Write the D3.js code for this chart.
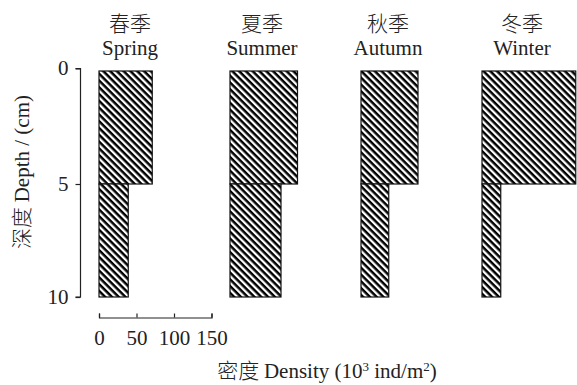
<!DOCTYPE html>
<html><head><meta charset="utf-8">
<script src="https://cdn.jsdelivr.net/npm/d3@7"></script>
<style>
html,body{margin:0;padding:0;background:#fff;}
svg{display:block;}
text{font-family:"Liberation Serif","Times New Roman","Noto Sans CJK SC",serif;fill:#222;}
</style></head>
<body>
<svg id="chart" width="577" height="385"></svg>
<script>
// ---- data ----
const seasonsZh = ["春季", "夏季", "秋季", "冬季"];
const seasonsEn = ["Spring", "Summer", "Autumn", "Winter"];
const depthBounds = [0, 5, 10];
const density0to5 = [71, 90, 76, 125];
const density5to10 = [39, 68, 37, 25];
const depthTicks = [0, 5, 10];
const densityTicks = [0, 50, 100, 150];

// ---- layout ----
const panelLeft = [99, 230, 361, 482];
const titleCenter = [130, 262, 388, 522];
const pxPerUnit = 0.75;
const FS = "21px";
const svg = d3.select("#chart");

const defs = svg.append("defs");
const pat = defs.append("pattern")
  .attr("id", "hatch")
  .attr("patternUnits", "userSpaceOnUse")
  .attr("width", 4.8).attr("height", 4.8)
  .attr("patternTransform", "rotate(45)");
pat.append("rect").attr("width", 4.8).attr("height", 4.8).attr("fill", "#fff");
pat.append("rect").attr("x", 0).attr("y", 0).attr("width", 4.8).attr("height", 2.5).attr("fill", "#000");

const y = d3.scaleLinear().domain([0, 10]).range([71, 297]);

// y axis
const yAxis = d3.axisLeft(y).tickValues(depthTicks).tickSize(5).tickSizeOuter(0).tickPadding(7);
const gy = svg.append("g").attr("transform", "translate(80.5,0)").call(yAxis);
gy.select(".domain").attr("d", `M-5,${y(0)-2.5}H0V${y(10)}H-5`).attr("stroke", "#222").attr("stroke-width", 1.2);
gy.selectAll(".tick line").attr("stroke", "#222").attr("stroke-width", 1.2);
gy.selectAll(".tick").filter(d => d === 0).select("line").attr("transform", "translate(0,-2.5)");
gy.selectAll(".tick").filter(d => d === 0).select("text").attr("transform", "translate(0,-3)");
gy.selectAll(".tick text").style("font-size", FS).attr("fill", "#222")
  .style("font-family", '"Liberation Serif",serif');

// y title
const yt = svg.append("text")
  .attr("transform", `translate(29,172) rotate(-90)`)
  .attr("text-anchor", "middle")
  .style("font-size", FS);
yt.append("tspan").style("font-family", '"Noto Sans CJK SC",sans-serif').style("font-weight", "300").text("深度 ");
yt.append("tspan").text("Depth / (cm)");

// panels
seasonsEn.forEach((s, i) => {
  const x = d3.scaleLinear().domain([0, 150]).range([panelLeft[i], panelLeft[i] + 150 * pxPerUnit]);
  const g = svg.append("g");
  const vals = [density0to5[i], density5to10[i]];
  g.selectAll("rect").data(vals).join("rect")
    .attr("x", x(0))
    .attr("y", (d, j) => y(depthBounds[j]))
    .attr("width", d => x(d) - x(0))
    .attr("height", (d, j) => y(depthBounds[j + 1]) - y(depthBounds[j]))
    .attr("fill", "url(#hatch)")
    .attr("stroke", "#111")
    .attr("stroke-width", 1.2);

  svg.append("text").attr("x", titleCenter[i]).attr("y", 31)
    .attr("text-anchor", "middle").style("font-size", FS)
    .style("font-family", '"Noto Sans CJK SC",sans-serif').style("font-weight", "300")
    .text(seasonsZh[i]);
  svg.append("text").attr("x", titleCenter[i]).attr("y", 55)
    .attr("text-anchor", "middle").style("font-size", FS)
    .text(s);

  if (i === 0) {
    const xAxis = d3.axisTop(x).tickValues(densityTicks).tickSize(4).tickSizeOuter(4);
    const gx = svg.append("g").attr("transform", "translate(0,317.5)").call(xAxis);
    gx.select(".domain").attr("stroke", "#222").attr("stroke-width", 1.2);
    gx.selectAll(".tick line").attr("stroke", "#222").attr("stroke-width", 1.2);
    gx.selectAll(".tick text").attr("y", 27).attr("dy", 0)
      .style("font-size", FS).attr("fill", "#222")
      .style("font-family", '"Liberation Serif",serif');
  }
});

// x title
const xt = svg.append("text").attr("x", 327).attr("y", 378).attr("text-anchor", "middle").style("font-size", FS);
xt.append("tspan").style("font-family", '"Noto Sans CJK SC",sans-serif').style("font-weight", "300").text("密度 ");
xt.append("tspan").text("Density (10");
xt.append("tspan").attr("dy", -7).style("font-size", "13px").text("3");
xt.append("tspan").attr("dy", 7).text(" ind/m");
xt.append("tspan").attr("dy", -7).style("font-size", "13px").text("2");
xt.append("tspan").attr("dy", 7).text(")");
</script>
</body></html>
